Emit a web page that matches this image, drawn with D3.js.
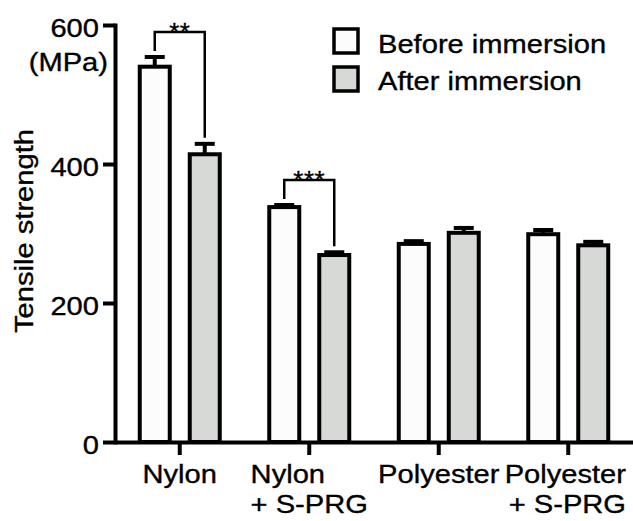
<!DOCTYPE html>
<html lang="en">
<head>
<meta charset="UTF-8">
<script src="https://d3js.org/d3.v7.min.js"></script>
<style>
    body { margin: 0; background: #fff; }
    svg { display: block; font-family: "Liberation Sans", Arial, sans-serif; }
    svg text { stroke: #000; stroke-width: 0.35px; }
</style>
</head>
<body>
<div id="chart"></div>
<script>
    // data
    const categories = ["Nylon", "Nylon + S-PRG", "Polyester", "Polyester + S-PRG"];
    const categoryLines = [["Nylon"], ["Nylon", "+ S-PRG"], ["Polyester"], ["Polyester", "+ S-PRG"]];
    const series = ["Before immersion", "After immersion"];
    const beforeMean = [540, 338, 285, 299];
    const beforeErr = [14, 3, 4, 6];
    const afterMean = [414, 269, 301, 283];
    const afterErr = [15, 4, 7, 5];
    const yTicks = [0, 200, 400, 600];
    const sigCategories = ["Nylon", "Nylon + S-PRG"];
    const sigLabels = ["**", "***"];
    const sigLevels = [590, 377];

    const W = 633, H = 521;
    const SX = 1.12; // the figure's lettering is a bit wide
    const colors = ["#fcfcfc", "#d7d9d7"];
    const labelAlign = ["middle", "start", "middle", "end"];

    const svg = d3.select("#chart").append("svg")
        .attr("width", W)
        .attr("height", H);

    const x = d3.scaleBand()
        .domain(categories)
        .range([115, 633])
        .padding(0);

    const xSub = d3.scaleBand()
        .domain(series)
        .range([-50, 50]);

    const y = d3.scaleLinear()
        .domain([0, 600])
        .range([442, 25]);

    const barW = 30;
    const cx = (cat, s) => x(cat) + x.bandwidth() / 2 + xSub(s) + xSub.bandwidth() / 2;

    const rows = [];
    categories.forEach((c, i) => {
        rows.push({cat: c, s: series[0], v: beforeMean[i], e: beforeErr[i]});
        rows.push({cat: c, s: series[1], v: afterMean[i], e: afterErr[i]});
    });

    // error bars
    const eb = svg.append("g").attr("stroke", "#000").attr("stroke-width", 4);
    eb.selectAll(".stem")
        .data(rows)
        .enter()
        .append("line")
        .attr("x1", d => cx(d.cat, d.s))
        .attr("x2", d => cx(d.cat, d.s))
        .attr("y1", d => y(d.v))
        .attr("y2", d => y(d.v + d.e));
    eb.selectAll(".cap")
        .data(rows)
        .enter()
        .append("line")
        .attr("x1", d => cx(d.cat, d.s) - 10)
        .attr("x2", d => cx(d.cat, d.s) + 10)
        .attr("y1", d => y(d.v + d.e))
        .attr("y2", d => y(d.v + d.e));

    // bars
    svg.append("g").selectAll("rect")
        .data(rows)
        .enter()
        .append("rect")
        .attr("x", d => cx(d.cat, d.s) - barW / 2)
        .attr("y", d => y(d.v))
        .attr("width", barW)
        .attr("height", d => y(0) - y(d.v))
        .attr("fill", d => colors[series.indexOf(d.s)])
        .attr("stroke", "#000")
        .attr("stroke-width", 4);

    // axes
    const yAxis = svg.append("g")
        .attr("transform", "translate(115,0)")
        .call(d3.axisLeft(y).tickValues(yTicks).tickSize(12).tickSizeOuter(0).tickPadding(0));
    yAxis.select(".domain").attr("stroke-width", 4).attr("stroke-linecap", "square");
    yAxis.selectAll(".tick line").attr("stroke-width", 4);
    yAxis.selectAll(".tick text")
        .attr("font-size", 26)
        .attr("font-family", null)
        .attr("fill", "#000")
        .attr("x", -16 / SX)
        .attr("dy", "0.45em")
        .attr("transform", `scale(${SX},1)`);

    yAxis.append("text")
        .attr("transform", `translate(-7,71) scale(${SX},1)`)
        .attr("text-anchor", "end")
        .attr("font-size", 26)
        .attr("fill", "#000")
        .text("(MPa)");

    const xAxis = svg.append("g")
        .attr("transform", "translate(0,442)")
        .call(d3.axisBottom(x).tickSize(13).tickSizeOuter(0).tickFormat(""));
    xAxis.select(".domain").attr("stroke-width", 4);
    xAxis.selectAll(".tick line").attr("stroke-width", 4);

    // category labels
    const lab = svg.append("g").attr("font-size", 26).attr("fill", "#000");
    categories.forEach((c, i) => {
        const t = x(c) + x.bandwidth() / 2;
        const g = lab.append("g");
        const texts = categoryLines[i].map((ln, j) => g.append("text")
            .attr("text-anchor", labelAlign[i])
            .attr("transform", `translate(${t},${483 + j * 30}) scale(${SX},1)`)
            .text(ln));
        if (labelAlign[i] !== "middle") {
            const w = d3.max(texts, s => s.node().getComputedTextLength()) * SX;
            let left = t - w / 2;
            if (left + w > W - 7) left = W - 7 - w;
            const ax = labelAlign[i] === "start" ? left : left + w;
            texts.forEach((s, j) => s.attr("transform", `translate(${ax},${483 + j * 30}) scale(${SX},1)`));
        }
    });

    // y title
    svg.append("text")
        .attr("transform", `translate(33,231) rotate(-90) scale(${SX},1)`)
        .attr("text-anchor", "middle")
        .attr("font-size", 26)
        .attr("fill", "#000")
        .text("Tensile strength");

    // significance brackets
    sigCategories.forEach((c, i) => {
        const x1 = cx(c, series[0]), x2 = cx(c, series[1]);
        const ci = categories.indexOf(c);
        const top1 = y(beforeMean[ci] + beforeErr[ci]) - 6;
        const top2 = y(afterMean[ci] + afterErr[ci]) - 6;
        const yb = y(sigLevels[i]);
        svg.append("path")
            .attr("d", `M${x1},${top1}V${yb}H${x2}V${top2}`)
            .attr("fill", "none")
            .attr("stroke", "#000")
            .attr("stroke-width", 2.5);
        svg.append("text")
            .attr("x", (x1 + x2) / 2)
            .attr("y", yb + 9)
            .attr("text-anchor", "middle")
            .attr("font-size", 26)
            .attr("letter-spacing", 0.5)
            .text(sigLabels[i]);
    });

    // legend
    const leg = svg.append("g");
    series.forEach((s, i) => {
        leg.append("rect")
            .attr("x", 334)
            .attr("y", 29 + i * 38)
            .attr("width", 24)
            .attr("height", 24)
            .attr("fill", colors[i])
            .attr("stroke", "#000")
            .attr("stroke-width", 3.5);
        leg.append("text")
            .attr("transform", `translate(378,${53 + i * 37}) scale(${SX},1)`)
            .attr("font-size", 26)
            .attr("fill", "#000")
            .text(s);
    });
</script>
</body>
</html>
